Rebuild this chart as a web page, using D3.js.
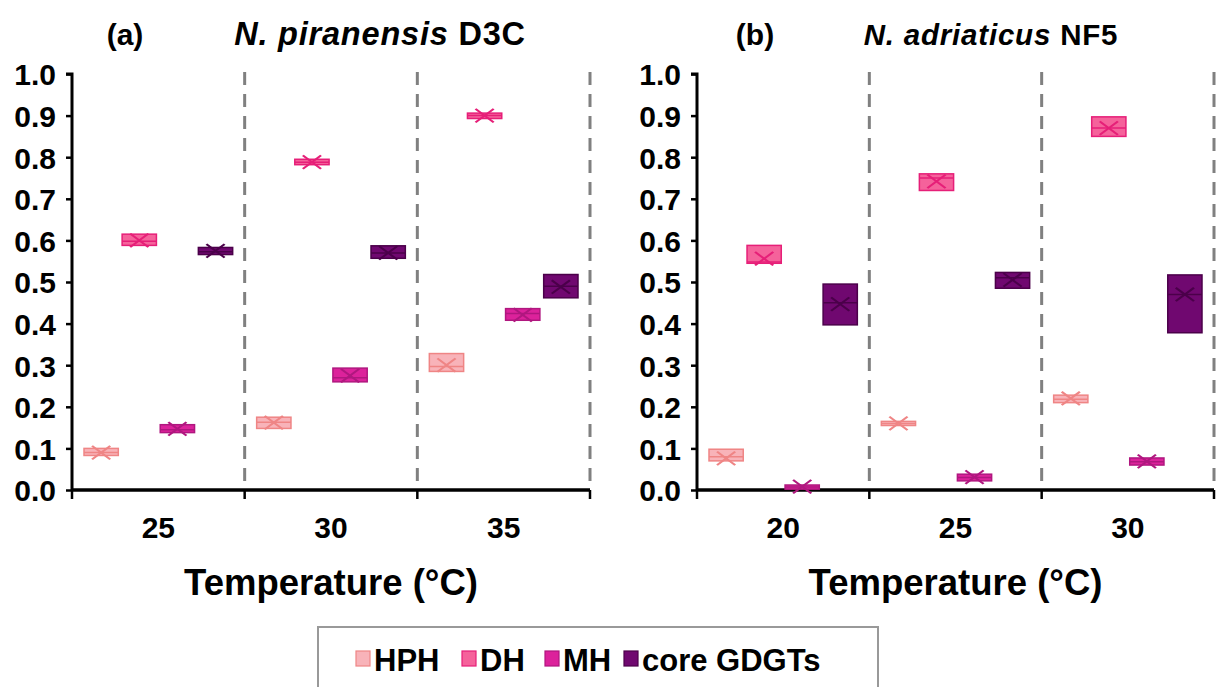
<!DOCTYPE html>
<html>
<head>
<meta charset="utf-8">
<script src="https://cdn.jsdelivr.net/npm/d3@7"></script>
<style>
  body { margin: 0; background: #fff; }
  text { font-family: "Liberation Sans", Arial, sans-serif; font-weight: bold; }
</style>
</head>
<body>
<div id="chart"></div>
<script>
// categories
const series = ["HPH", "DH", "MH", "core GDGTs"];
const tempsA = ["25", "30", "35"];
const tempsB = ["20", "25", "30"];

// each entry: [q1, median, q3, mean] per temperature
const piranHPH  = [[0.083, 0.090, 0.100, 0.090], [0.148, 0.163, 0.175, 0.162], [0.285, 0.297, 0.328, 0.300]];
const piranDH   = [[0.588, 0.598, 0.615, 0.600], [0.782, 0.788, 0.795, 0.788], [0.893, 0.900, 0.906, 0.900]];
const piranMH   = [[0.138, 0.145, 0.157, 0.147], [0.260, 0.270, 0.293, 0.275], [0.408, 0.424, 0.436, 0.421]];
const piranCore = [[0.566, 0.573, 0.583, 0.575], [0.557, 0.570, 0.587, 0.570], [0.462, 0.490, 0.518, 0.488]];

const adriHPH  = [[0.070, 0.080, 0.098, 0.076], [0.155, 0.160, 0.165, 0.160], [0.210, 0.218, 0.228, 0.220]];
const adriDH   = [[0.545, 0.548, 0.588, 0.556], [0.720, 0.750, 0.760, 0.742], [0.850, 0.870, 0.897, 0.870]];
const adriMH   = [[0.002, 0.007, 0.012, 0.008], [0.022, 0.030, 0.038, 0.031], [0.060, 0.068, 0.077, 0.069]];
const adriCore = [[0.397, 0.450, 0.495, 0.447], [0.485, 0.510, 0.523, 0.505], [0.378, 0.470, 0.517, 0.470]];

const fills   = ["#f8b3b9", "#f5629b", "#dc229b", "#700870"];
const strokes = ["#ef8585", "#e61f78", "#b0177f", "#4b004a"];

const width = 1216, height = 687;
const svg = d3.select("#chart").append("svg")
    .attr("width", width)
    .attr("height", height);

const y = d3.scaleLinear().domain([0, 1]).range([490, 74]);

const panels = [
  { left: 72,  right: 590,  temps: tempsA, data: [piranHPH, piranDH, piranMH, piranCore],
    tag: "(a)", tagX: 125, italic: "N. piranensis", plain: " D3C", titleX: 380, titleSize: 32.5 },
  { left: 697, right: 1214, temps: tempsB, data: [adriHPH, adriDH, adriMH, adriCore],
    tag: "(b)", tagX: 755, italic: "N. adriaticus", plain: " NF5", titleX: 991, titleSize: 29.5 }
];

panels.forEach(function(p) {
  const g = svg.append("g");

  const x0 = d3.scaleBand().domain(p.temps).range([p.left, p.right]);
  const x1 = d3.scaleBand().domain(series).range([12, x0.bandwidth() - 12]).paddingInner(0.1);

  // dashed category dividers
  const bounds = p.temps.slice(1).map(t => x0(t)).concat([p.right]);
  g.selectAll(".divider")
    .data(bounds)
    .join("line")
      .attr("x1", d => d).attr("x2", d => d)
      .attr("y1", 72).attr("y2", 490)
      .attr("stroke", "#808080")
      .attr("stroke-width", 3)
      .attr("stroke-dasharray", "13,9");

  // Y axis
  const yAxis = g.append("g")
    .attr("transform", `translate(${p.left},0)`)
    .call(d3.axisLeft(y).tickValues(d3.range(0, 11).map(i => i / 10)).tickFormat(d3.format(".1f")).tickSize(6).tickPadding(10));
  yAxis.select(".domain").attr("stroke-width", 3).attr("d", `M-6,${y(1)}H0V${y(0)}`);
  yAxis.selectAll(".tick line").attr("stroke-width", 2.5);
  yAxis.selectAll(".tick text").style("font-size", "30px").attr("fill", "#000").attr("dy", "0.36em");

  // X axis line with boundary ticks
  g.append("line")
    .attr("x1", p.left).attr("x2", p.right)
    .attr("y1", y(0)).attr("y2", y(0))
    .attr("stroke", "#000").attr("stroke-width", 3.5);
  g.selectAll(".xtick")
    .data([p.left].concat(bounds))
    .join("line")
      .attr("x1", d => d).attr("x2", d => d)
      .attr("y1", y(0)).attr("y2", y(0) + 9)
      .attr("stroke", "#000").attr("stroke-width", 2.5);

  // category labels
  g.selectAll(".cat")
    .data(p.temps)
    .join("text")
      .attr("x", d => x0(d) + x0.bandwidth() / 2)
      .attr("y", 538)
      .attr("text-anchor", "middle")
      .style("font-size", "30px")
      .text(d => d);

  // axis title
  g.append("text")
    .attr("x", (p.left + p.right) / 2)
    .attr("y", 595)
    .attr("text-anchor", "middle")
    .style("font-size", "36.5px")
    .text("Temperature (°C)");

  // panel titles
  g.append("text")
    .attr("x", p.tagX).attr("y", 45)
    .attr("text-anchor", "middle")
    .style("font-size", "30px")
    .text(p.tag);
  const title = g.append("text")
    .attr("x", p.titleX).attr("y", 45)
    .attr("text-anchor", "middle")
    .style("font-size", p.titleSize + "px")
    .style("letter-spacing", "0.8px");
  title.append("tspan").style("font-style", "italic").text(p.italic);
  title.append("tspan").text(p.plain);

  // boxes
  series.forEach(function(s, si) {
    const boxes = p.data[si].map((v, ti) => ({ t: p.temps[ti], q1: v[0], med: v[1], q3: v[2], mean: v[3] }));
    const sg = g.append("g");
    const bx = d => x0(d.t) + x1(s);

    sg.selectAll("rect")
      .data(boxes)
      .join("rect")
        .attr("x", bx)
        .attr("y", d => y(d.q3))
        .attr("width", x1.bandwidth())
        .attr("height", d => y(d.q1) - y(d.q3))
        .attr("fill", fills[si])
        .attr("stroke", strokes[si])
        .attr("stroke-width", 1.5);

    sg.selectAll(".median")
      .data(boxes)
      .join("line")
        .attr("x1", bx)
        .attr("x2", d => bx(d) + x1.bandwidth())
        .attr("y1", d => y(d.med)).attr("y2", d => y(d.med))
        .attr("stroke", strokes[si])
        .attr("stroke-width", 1.5);

    sg.selectAll(".mean")
      .data(boxes)
      .join("path")
        .attr("transform", d => `translate(${bx(d) + x1.bandwidth() / 2},${y(d.mean)}) scale(1.35,1)`)
        .attr("d", d3.symbol(d3.symbolX, 120))
        .attr("fill", "none")
        .attr("stroke", strokes[si])
        .attr("stroke-width", 1.8);
  });
});

// legend
const legend = svg.append("g");
legend.append("rect")
  .attr("x", 318).attr("y", 627)
  .attr("width", 560).attr("height", 70)
  .attr("fill", "#fff")
  .attr("stroke", "#999")
  .attr("stroke-width", 2);

const legendX = d3.scaleOrdinal().domain(series).range([356, 462, 545, 624]);
const items = legend.selectAll(".item")
  .data(series)
  .join("g")
    .attr("transform", d => `translate(${legendX(d)},659)`);
items.append("rect")
  .attr("x", 0).attr("y", -8)
  .attr("width", 14).attr("height", 15)
  .attr("fill", (d, i) => fills[i])
  .attr("stroke", (d, i) => strokes[i])
  .attr("stroke-width", 1.2);
items.append("text")
  .attr("x", 18).attr("y", 12)
  .style("font-size", "31px")
  .text(d => d);
</script>
</body>
</html>
